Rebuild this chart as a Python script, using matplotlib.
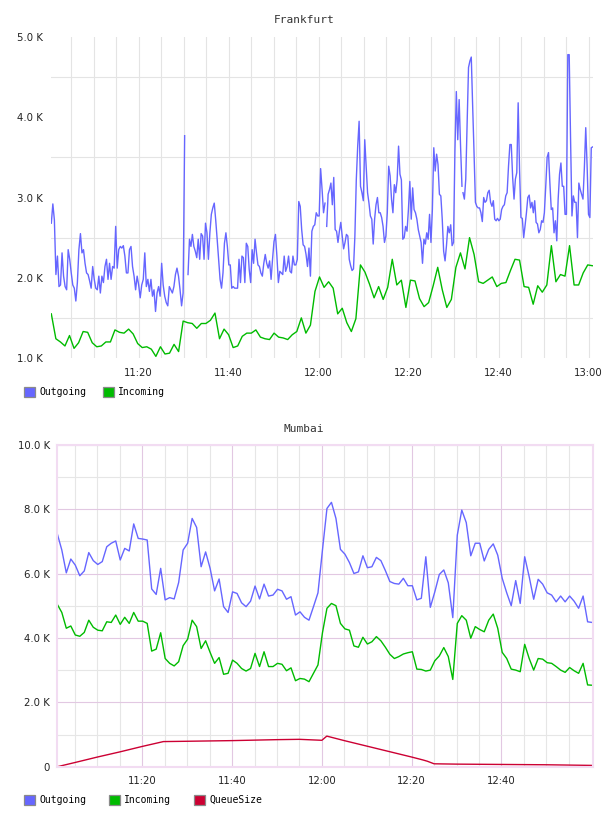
import numpy as np
import matplotlib
matplotlib.use("Agg")
import matplotlib.pyplot as plt
from matplotlib.patches import Patch
from matplotlib.ticker import FixedLocator, FuncFormatter

# time axis: minutes after 11:00, values in thousands
# Frankfurt outgoing, sampled about every 20 s, read in four blocks
fra_out_1 = [2.68, 2.92, 2.72, 2.04, 2.27, 1.89, 1.91, 2.31, 2.02, 1.89,
             1.85, 2.35, 2.23, 2.06, 1.91, 1.87, 1.71, 1.94, 2.35, 2.55,
             2.31, 2.35, 2.18, 2.06, 2.04, 1.96, 1.87, 2.14, 1.98, 1.87,
             1.85, 2.02, 1.81, 2.02, 1.94, 2.14, 2.23, 1.98, 2.18, 1.98,
             2.14, 2.12, 2.64, 2.12, 2.35, 2.39, 2.37, 2.40, 2.27, 2.06,
             2.06, 2.35, 2.39, 2.14, 2.02, 1.85, 2.02, 1.91, 1.75, 1.91,
             1.98, 2.31, 1.89, 1.98, 1.83, 1.98, 1.77, 1.85, 1.58, 1.81,
             1.89, 1.77, 2.18, 1.91, 1.77, 1.69, 1.65, 1.89, 1.85, 1.81,
             1.89, 2.04, 2.12, 2.02, 1.85, 1.65, 1.81, 3.77]
fra_out_2 = [2.04, 2.48, 2.39, 2.54, 2.39, 2.33, 2.25, 2.48, 2.23, 2.55,
             2.52, 2.23, 2.68, 2.56, 2.23, 2.56, 2.79, 2.87, 2.93, 2.72,
             2.48, 2.23, 1.98, 1.87, 2.06, 2.43, 2.56, 2.39, 2.16, 2.16,
             1.87, 1.89, 1.87, 1.87, 1.87, 2.23, 1.94, 2.27, 2.25, 1.94,
             2.43, 2.39, 2.10, 1.94, 2.35, 2.18, 2.48, 2.31, 2.16, 2.14,
             2.06, 2.02, 2.18, 2.29, 2.18, 2.12, 2.21, 1.98, 2.23, 2.45,
             2.54, 2.27, 1.94, 2.08, 2.06, 2.04, 2.27, 2.08, 2.14, 2.27,
             2.08, 2.06, 2.27, 2.16, 2.16, 2.23, 2.95, 2.89, 2.60, 2.41,
             2.39, 2.29, 2.14, 2.37, 2.02, 2.58, 2.64, 2.66, 2.81, 2.77,
             2.77, 3.36, 3.10, 2.81, 2.93]
fra_out_3 = [2.64, 3.04, 3.10, 3.18, 2.91, 3.25, 2.60, 2.58, 2.44, 2.58,
             2.69, 2.52, 2.36, 2.44, 2.54, 2.52, 2.23, 2.15, 2.09, 2.11,
             2.52, 3.22, 3.64, 3.95, 3.14, 3.06, 2.96, 3.72, 3.39, 3.06,
             2.93, 2.77, 2.73, 2.42, 2.73, 2.91, 3.00, 2.81, 2.81, 2.75,
             2.64, 2.44, 2.52, 2.81, 3.39, 3.27, 2.98, 2.81, 3.16, 3.06,
             3.22, 3.64, 3.29, 3.22, 2.48, 2.50, 2.64, 2.58, 2.85, 3.20,
             2.73, 3.12, 2.85, 2.81, 2.73, 2.60, 2.52, 2.44, 2.18, 2.48,
             2.42, 2.56, 2.48, 2.79, 2.44, 2.85, 3.62, 3.33, 3.54, 3.41,
             3.04, 3.02, 2.73, 2.33, 2.21, 2.40, 2.64, 2.56, 2.66, 2.40,
             2.44, 3.58, 4.32, 3.72, 4.22, 3.64, 3.14]
fra_out_4 = [3.06, 2.98, 3.23, 3.93, 4.62, 4.70, 4.75, 4.14, 3.56, 2.94,
             2.89, 2.87, 2.87, 2.81, 2.70, 3.00, 2.94, 2.96, 3.06, 3.09,
             2.94, 2.89, 2.96, 2.73, 2.71, 2.74, 2.71, 2.73, 2.85, 2.89,
             2.91, 3.02, 3.06, 3.39, 3.66, 3.66, 3.25, 2.98, 3.23, 3.31,
             4.18, 3.35, 2.75, 2.74, 2.50, 2.65, 2.81, 3.00, 3.03, 2.87,
             2.94, 2.81, 2.96, 2.69, 2.67, 2.56, 2.60, 2.71, 2.69, 2.81,
             3.14, 3.50, 3.56, 3.18, 2.85, 2.87, 2.56, 2.71, 2.46, 2.98,
             3.29, 3.43, 3.14, 3.14, 2.79, 2.79, 4.78, 4.78, 3.72, 2.77,
             3.02, 2.94, 2.94, 2.50, 3.18, 3.10, 3.04, 2.98, 3.37, 3.87,
             3.39, 2.79, 2.75, 3.62, 3.63]
fra_out_blocks = [((0.58, 30.21), fra_out_1), ((30.96, 61.40), fra_out_2),
                  ((61.78, 91.84), fra_out_3), ((92.07, 120.88), fra_out_4)]

# Frankfurt incoming, one sample per minute
fra_in_start, fra_in_end = 0.58, 120.8
fra_in = [1.55, 1.24, 1.20, 1.15, 1.28, 1.12, 1.19, 1.33, 1.32, 1.19,
          1.14, 1.15, 1.20, 1.20, 1.35, 1.32, 1.31, 1.36, 1.30, 1.18,
          1.13, 1.14, 1.11, 1.02, 1.14, 1.05, 1.06, 1.17, 1.08, 1.46,
          1.44,
          1.43, 1.37, 1.43, 1.43, 1.47, 1.56, 1.24, 1.36, 1.29, 1.13,
          1.15, 1.27, 1.31, 1.31, 1.35, 1.26, 1.24, 1.23, 1.31, 1.26,
          1.25, 1.23, 1.29, 1.33, 1.50, 1.31, 1.41, 1.83, 2.01, 1.88,
          1.95, 1.87, 1.55, 1.62, 1.44, 1.33, 1.49, 2.16, 2.07, 1.92,
          1.75, 1.89, 1.73, 1.88, 2.23, 1.91, 1.97, 1.63, 1.97, 1.96,
          1.74, 1.64, 1.69, 1.90, 2.13, 1.85, 1.63, 1.73, 2.13, 2.31,
          2.11, 2.50, 2.29, 1.95, 1.93, 1.97, 2.01, 1.89, 1.93, 1.94,
          2.09, 2.23, 2.22, 1.89, 1.88, 1.67, 1.90, 1.82, 1.91, 2.40,
          1.95, 2.04, 2.02, 2.40, 1.91, 1.91, 2.06, 2.16, 2.15]

# Mumbai, one sample per minute
mum_start, mum_end = 1.07, 120.2
mum_out = [7.23, 6.73, 6.02, 6.45, 6.26, 5.93, 6.08, 6.65, 6.40, 6.28,
           6.37, 6.83, 6.94, 7.01, 6.42, 6.78, 6.70, 7.54, 7.09, 7.07,
           7.04, 5.52, 5.35, 6.16, 5.18, 5.25, 5.21, 5.72, 6.73, 6.94,
           7.71, 7.43, 6.21, 6.67, 6.16, 5.46, 5.83, 4.97, 4.79, 5.43,
           5.38, 5.09, 4.97, 5.14, 5.61, 5.21, 5.67, 5.30, 5.33, 5.51,
           5.46, 5.20, 5.28, 4.71, 4.81, 4.64, 4.55,
           4.97, 5.40, 6.73, 8.02, 8.21, 7.71, 6.75, 6.60, 6.34, 6.00,
           6.05, 6.55, 6.18, 6.21, 6.50, 6.40, 6.09, 5.75, 5.69, 5.67,
           5.85, 5.62, 5.62, 5.18, 5.23, 6.52, 4.95, 5.43, 5.97, 6.11,
           5.71, 4.63, 7.19, 7.97, 7.58, 6.55, 6.94, 6.94, 6.39, 6.75,
           6.92, 6.57, 5.85, 5.40, 5.00, 5.78, 5.07, 6.52, 5.90, 5.20,
           5.82, 5.67, 5.40, 5.33, 5.12, 5.30, 5.12, 5.30, 5.14, 4.92,
           5.30, 4.50, 4.48]
mum_in = [5.04, 4.79, 4.30, 4.37, 4.09, 4.05, 4.17, 4.55, 4.33, 4.24,
          4.22, 4.50, 4.48, 4.71, 4.42, 4.64, 4.45, 4.79, 4.52, 4.52,
          4.45, 3.59, 3.65, 4.16, 3.36, 3.21, 3.13, 3.26, 3.76, 3.96,
          4.55, 4.35, 3.67, 3.91, 3.55, 3.21, 3.39, 2.87, 2.90, 3.31,
          3.21, 3.05, 2.97, 3.05, 3.52, 3.11, 3.57, 3.11, 3.11, 3.21,
          3.18, 2.98, 3.07, 2.67, 2.74, 2.72, 2.64,
          2.90, 3.16, 4.16, 4.92, 5.07, 5.00, 4.45, 4.28, 4.24, 3.75,
          3.71, 4.02, 3.81, 3.88, 4.04, 3.91, 3.71, 3.49, 3.36, 3.42,
          3.50, 3.54, 3.57, 3.03, 3.02, 2.97, 3.00, 3.29, 3.44, 3.70,
          3.42, 2.71, 4.45, 4.69, 4.55, 3.99, 4.35, 4.26, 4.19, 4.55,
          4.74, 4.30, 3.55, 3.36, 3.03, 3.00, 2.95, 3.80, 3.36, 3.00,
          3.36, 3.34, 3.23, 3.21, 3.11, 3.00, 2.93, 3.08, 2.98, 2.90,
          3.21, 2.54, 2.53]
# queue size, read at its turning points
queue_t = [1.1, 5, 10, 15, 20, 24.7, 30, 40, 50, 55, 60, 61.1, 65, 70, 75,
           80, 82.5, 83.5, 85, 90, 100, 110, 120.2]
queue_v = [0.0, 0.13, 0.30, 0.46, 0.63, 0.78, 0.79, 0.81, 0.84, 0.85, 0.82,
           0.95, 0.81, 0.64, 0.47, 0.30, 0.21, 0.17, 0.09, 0.08, 0.07, 0.06,
           0.04]

top_ticks = [20, 40, 60, 80, 100, 120]
top_labels = ["11:20", "11:40", "12:00", "12:20", "12:40", "13:00"]
bot_ticks = [20, 40, 60, 80, 100]
bot_labels = ["11:20", "11:40", "12:00", "12:20", "12:40"]

C_OUT = "#6666ff"
C_IN = "#00bb00"
C_QUEUE = "#cc0033"
MONO = "DejaVu Sans Mono"

W, H = 608, 816
fig = plt.figure(figsize=(W / 100, H / 100), dpi=100)


def k_fmt(v, pos):
    return "0" if v == 0 else f"{v:.1f} K"


def legend(labels, colors, y, spacing):
    handles = [Patch(facecolor=c, edgecolor="#8a8a8a", linewidth=0.9) for c in colors]
    fig.legend(handles, labels, loc="center left", bbox_to_anchor=(24 / W, 1 - y / H),
               ncol=len(labels), frameon=False, borderpad=0, borderaxespad=0,
               handlelength=1.15, handleheight=1.15, handletextpad=0.45,
               columnspacing=spacing, prop={"family": MONO, "size": 7})


# ---- Frankfurt ----
ax1 = fig.add_axes([51 / W, 1 - 358 / H, 542 / W, 321 / H])
for (t0, t1), vals in fra_out_blocks:
    ax1.plot(np.linspace(t0, t1, len(vals)), vals, color=C_OUT, lw=1.0)
ax1.plot(np.linspace(fra_in_start, fra_in_end, len(fra_in)), fra_in, color=C_IN, lw=1.0)
ax1.set_xlim(0.51, 120.96)
ax1.set_ylim(1.0, 5.0)
ax1.xaxis.set_major_locator(FixedLocator(top_ticks))
ax1.set_xticklabels(top_labels)
ax1.xaxis.set_minor_locator(FixedLocator(range(5, 121, 5)))
ax1.yaxis.set_major_locator(FixedLocator([1, 2, 3, 4, 5]))
ax1.yaxis.set_major_formatter(FuncFormatter(k_fmt))
ax1.yaxis.set_minor_locator(FixedLocator([1.5, 2.5, 3.5, 4.5]))
ax1.grid(axis="x", which="both", color="#e4e4e4", lw=0.8)
ax1.grid(axis="y", which="minor", color="#e4e4e4", lw=0.8)
ax1.set_axisbelow(True)
for s in ax1.spines.values():
    s.set_visible(False)
ax1.tick_params(which="both", length=0, labelsize=7.3, colors="#222222")
ax1.tick_params(axis="x", pad=7)
ax1.tick_params(axis="y", pad=6)
fig.text(0.5, 1 - 20 / H, "Frankfurt", ha="center", va="center",
         family=MONO, fontsize=8, color="#333333")
legend(["Outgoing", "Incoming"], [C_OUT, C_IN], 392, 1.65)

# ---- Mumbai ----
ax2 = fig.add_axes([57 / W, 1 - 766.7 / H, 536 / W, 322 / H])
mt = np.linspace(mum_start, mum_end, len(mum_out))
ax2.plot(mt, mum_out, color=C_OUT, lw=1.0)
ax2.plot(mt, mum_in, color=C_IN, lw=1.0)
ax2.plot(queue_t, queue_v, color=C_QUEUE, lw=1.0)
ax2.set_xlim(1.0, 120.4)
ax2.set_ylim(0, 10)
ax2.xaxis.set_major_locator(FixedLocator(bot_ticks))
ax2.set_xticklabels(bot_labels)
ax2.xaxis.set_minor_locator(FixedLocator(range(5, 116, 5)))
ax2.yaxis.set_major_locator(FixedLocator([0, 2, 4, 6, 8, 10]))
ax2.yaxis.set_major_formatter(FuncFormatter(k_fmt))
ax2.yaxis.set_minor_locator(FixedLocator([1, 3, 5, 7, 9]))
ax2.grid(which="minor", color="#e6e6e6", lw=0.8)
ax2.grid(which="major", color="#e2c8e2", lw=0.8)
ax2.set_axisbelow(True)
for s in ax2.spines.values():
    s.set_color("#f2dcf2")
    s.set_linewidth(1.5)
ax2.tick_params(which="both", length=0, labelsize=7.3, colors="#222222")
ax2.tick_params(axis="x", pad=7)
ax2.tick_params(axis="y", pad=5)
fig.text(0.5, 1 - 429 / H, "Mumbai", ha="center", va="center",
         family=MONO, fontsize=8, color="#333333")
legend(["Outgoing", "Incoming", "QueueSize"], [C_OUT, C_IN, C_QUEUE], 800, 2.3)

fig.savefig("out.png", dpi=100)
